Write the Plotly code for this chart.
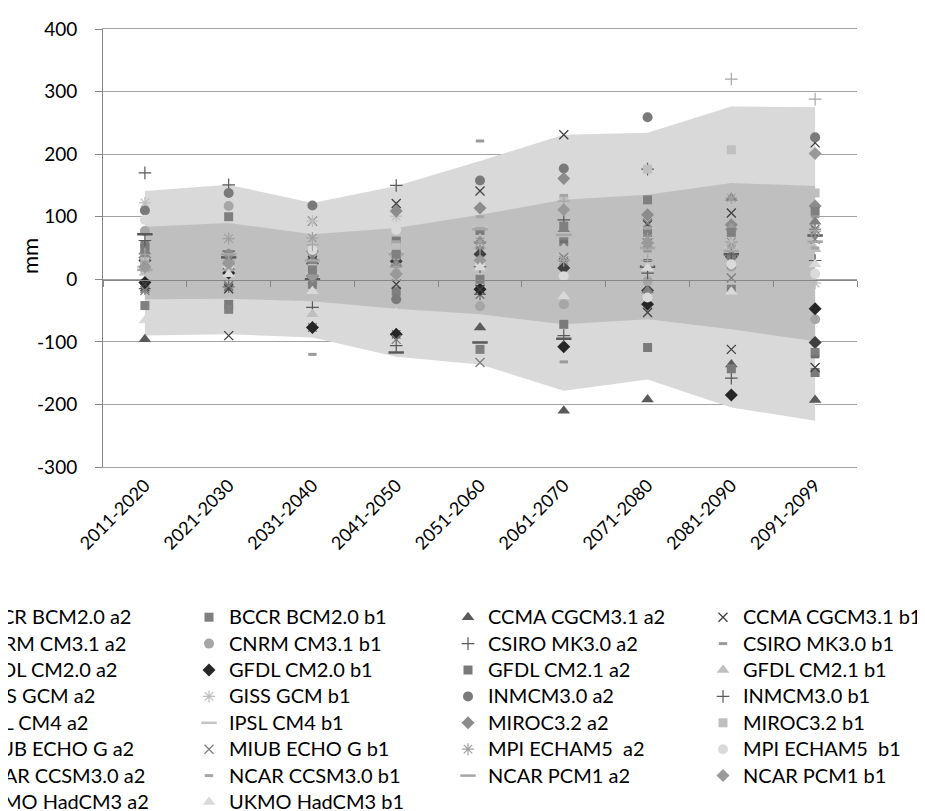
import plotly.graph_objects as go

periods = ["2011-2020", "2021-2030", "2031-2040", "2041-2050", "2051-2060",
           "2061-2070", "2071-2080", "2081-2090", "2091-2099"]

y_tick_values = [-300, -200, -100, 0, 100, 200, 300, 400]
y_tick_labels = ["-300", "-200", "-100", "0", "100", "200", "300", "400"]

# envelope bands (mm)
outer_low = [-90, -88, -93, -124, -136, -178, -160, -205, -226]
inner_low = [-32, -31, -35, -47, -56, -72, -64, -80, -99]
inner_high = [84, 90, 72, 82, 103, 127, 135, 154, 149]
outer_high = [141, 151, 122, 149, 189, 231, 234, 276, 275]

# model series (mm)
bccr_bcm20_a2 = [30, 20, 5, 29, 40, 18, -18, 36, -101]
bccr_bcm20_b1 = [55, 100, -8, -19, -112, 60, 75, -16, -117]
ccma_cgcm31_a2 = [-96, 20, 34, 45, -77, -210, -192, -136, -193]
ccma_cgcm31_b1 = [-12, -90, 93, 121, 141, 231, -53, -112, 218]
cnrm_cm31_a2 = [-15, -12, -77, -88, -24, 30, 58, 60, 80]
cnrm_cm31_b1 = [77, 117, 40, 37, -43, -40, -3, 20, -64]
csiro_mk30_a2 = [170, 151, -45, 150, 60, 95, 176, -158, 70]
csiro_mk30_b1 = [48, 30, -120, 40, 221, -132, 45, 55, 100]
gfdl_cm20_a2 = [72, 35, 0, -117, -101, -95, 20, 40, 70]
gfdl_cm20_b1 = [-5, 10, -77, -88, -16, -108, -40, -185, -47]
gfdl_cm21_a2 = [50, -40, 20, 61, 78, -72, -109, -143, -149]
gfdl_cm21_b1 = [10, 25, -56, 15, 65, 50, 25, -32, 48]
giss_gcm_a2 = [-8, -15, 30, -8, -16, 26, 87, 106, -141]
giss_gcm_b1 = [122, 69, 93, 101, 29, 37, 60, 61, -6]
inmcm30_a2 = [110, 138, 118, -32, 158, 177, 259, 36, 227]
inmcm30_b1 = [62, 45, 25, -106, 20, -90, 10, 40, 30]
ipsl_cm4_a2 = [40, 15, 10, 50, 50, 60, 30, 20, -124]
ipsl_cm4_b1 = [20, 20, 10, 45, 85, 40, 82, 51, 60]
miroc32_a2 = [35, 40, 45, 109, 114, 161, 103, 87, 117]
miroc32_b1 = [28, 56, 18, 52, 90, 127, 176, 207, 138]
miub_echog_a2 = [45, 30, 30, 25, 61, 80, -18, 130, 92]
miub_echog_b1 = [-18, -10, 0, -96, -133, 35, 90, 2, 64]
mpi_echam5_a2 = [18, 65, 66, 19, 60, 30, 65, 130, 77]
mpi_echam5_b1 = [95, 20, 47, 79, 25, 5, -29, 24, 9]
ncar_ccsm30_a2 = [40, 30, 55, 10, 50, 125, 30, 320, 288]
ncar_ccsm30_b1 = [28, 15, 10, 60, 100, 134, 82, 51, 50]
ncar_pcm1_a2 = [15, 40, 30, 40, 80, 71, 50, 45, 60]
ncar_pcm1_b1 = [20, 25, 5, 8, 30, 111, 58, 80, 201]
ukmo_hadcm3_a2 = [-42, -48, 15, 40, 0, 85, 127, 75, 109]
ukmo_hadcm3_b1 = [-66, 8, -19, -53, 19, -27, 18, -20, 24]

series = [
    ("BCCR BCM2.0 a2", bccr_bcm20_a2), ("BCCR BCM2.0 b1", bccr_bcm20_b1),
    ("CCMA CGCM3.1 a2", ccma_cgcm31_a2), ("CCMA CGCM3.1 b1", ccma_cgcm31_b1),
    ("CNRM CM3.1 a2", cnrm_cm31_a2), ("CNRM CM3.1 b1", cnrm_cm31_b1),
    ("CSIRO MK3.0 a2", csiro_mk30_a2), ("CSIRO MK3.0 b1", csiro_mk30_b1),
    ("GFDL CM2.0 a2", gfdl_cm20_a2), ("GFDL CM2.0 b1", gfdl_cm20_b1),
    ("GFDL CM2.1 a2", gfdl_cm21_a2), ("GFDL CM2.1 b1", gfdl_cm21_b1),
    ("GISS GCM a2", giss_gcm_a2), ("GISS GCM b1", giss_gcm_b1),
    ("INMCM3.0 a2", inmcm30_a2), ("INMCM3.0 b1", inmcm30_b1),
    ("IPSL CM4 a2", ipsl_cm4_a2), ("IPSL CM4 b1", ipsl_cm4_b1),
    ("MIROC3.2 a2", miroc32_a2), ("MIROC3.2 b1", miroc32_b1),
    ("MIUB ECHO G a2", miub_echog_a2), ("MIUB ECHO G b1", miub_echog_b1),
    ("MPI ECHAM5  a2", mpi_echam5_a2), ("MPI ECHAM5  b1", mpi_echam5_b1),
    ("NCAR CCSM3.0 a2", ncar_ccsm30_a2), ("NCAR CCSM3.0 b1", ncar_ccsm30_b1),
    ("NCAR PCM1 a2", ncar_pcm1_a2), ("NCAR PCM1 b1", ncar_pcm1_b1),
    ("UKMO HadCM3 a2", ukmo_hadcm3_a2), ("UKMO HadCM3 b1", ukmo_hadcm3_b1),
]

colors = ["#404040", "#7f7f7f", "#5a5a5a", "#404040", "#6a6a6a", "#a6a6a6",
          "#595959", "#9a9a9a", "#595959", "#262626", "#7a7a7a", "#bfbfbf",
          "#404040", "#bdbdbd", "#7a7a7a", "#595959", "#6f6f6f", "#c4c4c4",
          "#8c8c8c", "#bfbfbf", "#808080", "#7f7f7f", "#a0a0a0", "#dadada",
          "#a6a6a6", "#a6a6a6", "#a6a6a6", "#999999", "#808080", "#d9d9d9"]

# marker cycle: diamond, square, triangle, x, asterisk, circle, plus, short dash, long dash
cycle = [
    dict(symbol="diamond", size=10, lw=0),
    dict(symbol="square", size=9, lw=0),
    dict(symbol="triangle-up", size=11, lw=0),
    dict(symbol="x-thin-open", size=9, lw=1.3),
    dict(symbol="asterisk-open", size=10, lw=1.2),
    dict(symbol="circle", size=10, lw=0),
    dict(symbol="cross-thin-open", size=9, lw=1.2),
    dict(symbol="line-ew-open", size=6, lw=3),
    dict(symbol="line-ew-open", size=11, lw=2.5),
]

fig = go.Figure()

band_kw = dict(x=periods, mode="lines", line=dict(width=0), showlegend=False,
               hoverinfo="skip")
fig.add_trace(go.Scatter(y=outer_low, **band_kw))
fig.add_trace(go.Scatter(y=outer_high, fill="tonexty", fillcolor="#d9d9d9", **band_kw))
fig.add_trace(go.Scatter(y=inner_low, **band_kw))
fig.add_trace(go.Scatter(y=inner_high, fill="tonexty", fillcolor="#bfbfbf", **band_kw))

FONT = "Lato, 'Liberation Sans', sans-serif"

legend_ids = ["legend", "legend2", "legend3", "legend4"]
for i, (name, vals) in enumerate(series):
    m = cycle[i % 9]
    fig.add_trace(go.Scatter(
        x=periods, y=vals, mode="markers",
        name='<span style="font-size:20px">' + name + '</span>',
        legend=legend_ids[i % 4],
        marker=dict(symbol=m["symbol"], size=m["size"], color=colors[i],
                    line=dict(width=m["lw"], color=colors[i])),
    ))

# invisible trace carrying the zero-crossing category axis
fig.add_trace(go.Scatter(x=periods, y=[None] * 9, xaxis="x2", showlegend=False,
                         hoverinfo="skip", mode="markers"))

grid = "#a3a3a3"
axis = "#868686"

L, R, T, B = 95, 76, 21, 352
W, H = 925, 811
pw = W - L - R
ph = H - T - B

def lx(px):
    return (px - L) / pw

def ly(py):
    return (H - B - py) / ph

leg_common = dict(orientation="v", xanchor="left", yanchor="top",
                  traceorder="normal",
                  font=dict(family=FONT, size=18, color="#000000"),
                  bgcolor="rgba(0,0,0,0)", tracegroupgap=0, itemwidth=30)
lefts = [-73, 181, 440, 695]

layout_legends = {}
for k, lid in enumerate(legend_ids):
    layout_legends[lid] = dict(x=lx(lefts[k]), y=ly(591), **leg_common)

fig.update_layout(
    width=W, height=H,
    margin=dict(l=L, r=R, t=T, b=B, autoexpand=False),
    paper_bgcolor="white", plot_bgcolor="white",
    font=dict(family=FONT, color="#000000"),
    xaxis=dict(type="category", categoryorder="array", categoryarray=periods,
               range=[-0.5, 8.5], showgrid=False, showline=True, mirror=True,
               linecolor=grid, linewidth=1, ticks="", tickangle=-45,
               tickfont=dict(family=FONT, size=18, color="#000000")),
    xaxis2=dict(type="category", categoryorder="array", categoryarray=periods,
                range=[-0.5, 8.5], overlaying="x", anchor="free",
                position=ly(271.5), showgrid=False, showline=True,
                linecolor=axis, linewidth=1, ticks="outside", ticklen=6,
                tickcolor=axis, tickson="boundaries", showticklabels=False,
                layer="above traces"),
    yaxis=dict(range=[-300, 400], tickvals=y_tick_values, ticktext=y_tick_labels,
               showgrid=True, gridcolor=grid,
               gridwidth=1, zeroline=False, showline=True, linecolor=axis,
               linewidth=1, ticks="outside", ticklen=7, tickcolor=axis,
               ticklabelstandoff=14,
               tickfont=dict(family=FONT, size=19, color="#000000")),
    annotations=[dict(text="mm", xref="paper", yref="paper", x=lx(21), y=ly(248),
                      xanchor="center", yanchor="middle",
                      showarrow=False, textangle=-90,
                      font=dict(family=FONT, size=22, color="#000000"))],
    **layout_legends,
)

fig.write_html("out.html")
